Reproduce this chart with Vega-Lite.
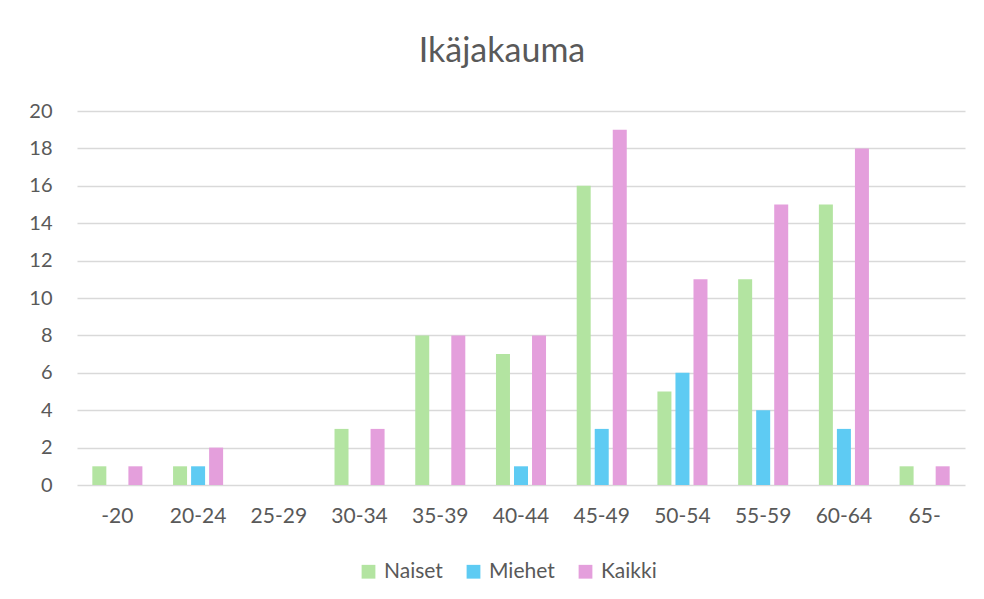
{
  "$schema": "https://vega.github.io/schema/vega-lite/v6.json",
  "autosize": "none",
  "width": 888,
  "height": 374,
  "padding": {"left": 77, "top": 111, "right": 19, "bottom": 114},
  "background": "white",
  "title": {
    "text": "Ikäjakauma",
    "font": "Lato",
    "fontSize": 34,
    "fontWeight": "normal",
    "color": "#595959",
    "anchor": "middle",
    "dx": -19,
    "offset": 32
  },
  "data": {
    "values": [
      {"ika": "-20", "sarja": "Naiset", "lkm": 1},
      {"ika": "-20", "sarja": "Miehet", "lkm": 0},
      {"ika": "-20", "sarja": "Kaikki", "lkm": 1},
      {"ika": "20-24", "sarja": "Naiset", "lkm": 1},
      {"ika": "20-24", "sarja": "Miehet", "lkm": 1},
      {"ika": "20-24", "sarja": "Kaikki", "lkm": 2},
      {"ika": "25-29", "sarja": "Naiset", "lkm": 0},
      {"ika": "25-29", "sarja": "Miehet", "lkm": 0},
      {"ika": "25-29", "sarja": "Kaikki", "lkm": 0},
      {"ika": "30-34", "sarja": "Naiset", "lkm": 3},
      {"ika": "30-34", "sarja": "Miehet", "lkm": 0},
      {"ika": "30-34", "sarja": "Kaikki", "lkm": 3},
      {"ika": "35-39", "sarja": "Naiset", "lkm": 8},
      {"ika": "35-39", "sarja": "Miehet", "lkm": 0},
      {"ika": "35-39", "sarja": "Kaikki", "lkm": 8},
      {"ika": "40-44", "sarja": "Naiset", "lkm": 7},
      {"ika": "40-44", "sarja": "Miehet", "lkm": 1},
      {"ika": "40-44", "sarja": "Kaikki", "lkm": 8},
      {"ika": "45-49", "sarja": "Naiset", "lkm": 16},
      {"ika": "45-49", "sarja": "Miehet", "lkm": 3},
      {"ika": "45-49", "sarja": "Kaikki", "lkm": 19},
      {"ika": "50-54", "sarja": "Naiset", "lkm": 5},
      {"ika": "50-54", "sarja": "Miehet", "lkm": 6},
      {"ika": "50-54", "sarja": "Kaikki", "lkm": 11},
      {"ika": "55-59", "sarja": "Naiset", "lkm": 11},
      {"ika": "55-59", "sarja": "Miehet", "lkm": 4},
      {"ika": "55-59", "sarja": "Kaikki", "lkm": 15},
      {"ika": "60-64", "sarja": "Naiset", "lkm": 15},
      {"ika": "60-64", "sarja": "Miehet", "lkm": 3},
      {"ika": "60-64", "sarja": "Kaikki", "lkm": 18},
      {"ika": "65-", "sarja": "Naiset", "lkm": 1},
      {"ika": "65-", "sarja": "Miehet", "lkm": 0},
      {"ika": "65-", "sarja": "Kaikki", "lkm": 1}
    ]
  },
  "mark": {"type": "bar", "width": 14},
  "encoding": {
    "x": {
      "field": "ika",
      "type": "nominal",
      "sort": null,
      "scale": {"paddingInner": 0.33, "paddingOuter": 0.165},
      "axis": {
        "title": null,
        "labelAngle": 0,
        "labelFont": "Lato",
        "labelFontSize": 21,
        "labelColor": "#595959",
        "labelPadding": 20,
        "ticks": false,
        "domain": false
      }
    },
    "xOffset": {
      "field": "sarja",
      "type": "nominal",
      "sort": ["Naiset", "Miehet", "Kaikki"],
      "scale": {"paddingInner": 0, "paddingOuter": 0}
    },
    "y": {
      "field": "lkm",
      "type": "quantitative",
      "scale": {"domain": [0, 20]},
      "axis": {
        "title": null,
        "values": [0, 2, 4, 6, 8, 10, 12, 14, 16, 18, 20],
        "labelFont": "Lato",
        "labelFontSize": 20,
        "labelColor": "#595959",
        "labelPadding": 25,
        "ticks": false,
        "domain": false,
        "gridColor": "#d9d9d9",
        "gridWidth": 1.5
      }
    },
    "color": {
      "field": "sarja",
      "type": "nominal",
      "sort": ["Naiset", "Miehet", "Kaikki"],
      "scale": {
        "domain": ["Naiset", "Miehet", "Kaikki"],
        "range": ["#b3e4a1", "#5ecbf3", "#e49fdc"]
      },
      "legend": {
        "title": null,
        "orient": "none",
        "legendX": 281,
        "legendY": 450,
        "direction": "horizontal",
        "symbolType": "square",
        "symbolSize": 190,
        "symbolStrokeWidth": 0,
        "labelFont": "Lato",
        "labelFontSize": 21,
        "labelColor": "#595959",
        "labelOffset": 5,
        "columnPadding": 20
      }
    }
  },
  "config": {
    "view": {"stroke": null}
  }
}
